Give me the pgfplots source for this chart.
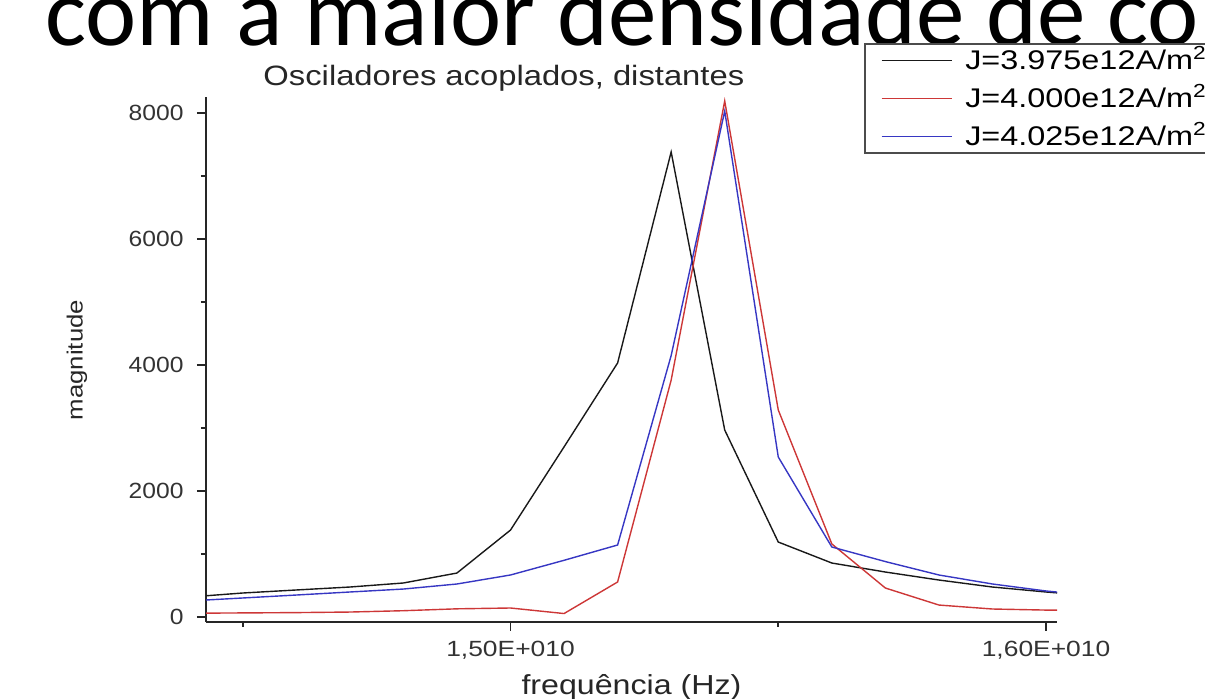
\documentclass[border=0pt]{standalone}
\usepackage{pgfplots}
\pgfplotsset{compat=1.18}
\usepackage{fontspec}
\setmainfont{Liberation Sans}
\newfontfamily\slidefont{Carlito}
\definecolor{cblack}{RGB}{25,25,25}
\definecolor{cred}{RGB}{205,55,55}
\definecolor{cblue}{RGB}{55,55,195}
\newcommand{\W}[1]{\scalebox{1.17}[1]{#1}}
\newcommand{\WL}[1]{\scalebox{1.2}[1]{#1}}
\begin{document}
\begin{tikzpicture}[x=1pt,y=1pt]
\path[use as bounding box] (0,0) rectangle (602.5,349.5);
\clip (0,0) rectangle (602.5,349.5);
\node[anchor=base west, inner sep=0pt, font=\slidefont\fontsize{48.5}{48.5}\selectfont] at (22.5,326.5) {com a maior densidade de co};
\begin{axis}[
  at={(103pt,38.5pt)}, anchor=south west, scale only axis,
  width=425.5pt, height=262.5pt,
  xmin=1.44314e10, xmax=1.60205e10, ymin=-79, ymax=8254,
  axis x line*=bottom, axis y line*=left,
  axis line style={-, line width=1.3pt, black!85},
  scaled x ticks=false, scaled y ticks=false,
  xtick={1.5e10,1.6e10}, xticklabels={{1,50E+010},{1,60E+010}},
  minor xtick={1.45e10,1.55e10},
  ytick={0,2000,4000,6000,8000}, yticklabels={0,2000,4000,6000,8000},
  minor ytick={1000,3000,5000,7000},
  tick align=outside, major tick length=4.5pt, minor tick length=2.5pt,
  every tick/.style={line width=0.9pt, black!85},
  /pgf/number format/assume math mode=true,
  xticklabel style={font=\fontsize{11}{11}\selectfont, xscale=1.2, text=black!80, yshift=-1.5pt},
  yticklabel style={font=\fontsize{11}{11}\selectfont, xscale=1.12, text=black!80, xshift=-2.5pt},
  title={\W{Osciladores acoplados, distantes}},
  title style={at={(axis description cs:0.35,1)}, anchor=base, yshift=-0.5pt, font=\fontsize{14}{14}\selectfont, text=black!85},
  xlabel={\W{frequência (Hz)}},
  xlabel style={at={(axis description cs:0.5,0)}, anchor=base, yshift=-36.5pt, font=\fontsize{13.75}{13.75}\selectfont, text=black!85},
  ylabel={\W{magnitude}},
  ylabel style={at={(axis description cs:-0.1516,0.499)}, anchor=center, font=\fontsize{11}{11}\selectfont, text=black!85},
  legend style={at={(axis description cs:0.7732,1.1029)}, anchor=north west, draw=black!70, line width=0.9pt, fill=white,
    font=\fontsize{13.5}{13.5}\selectfont, inner xsep=8pt, inner ysep=3.5pt, row sep=9.5pt, column sep=6.5pt,
    nodes={inner sep=0pt, text height=9.5pt, text depth=0pt}},
  legend cell align=left,
  legend image code/.code={\draw[#1] (0pt,0pt) -- (35pt,0pt);},
]
\addplot[cblack, line width=0.7pt] coordinates {
(1.44e10,317) (1.45e10,381) (1.46e10,429) (1.47e10,476) (1.48e10,540) (1.49e10,698)
(1.50e10,1380) (1.51e10,2700) (1.52e10,4032) (1.53e10,7381) (1.54e10,2968) (1.55e10,1190)
(1.56e10,857) (1.57e10,714) (1.58e10,587) (1.59e10,476) (1.60e10,397) (1.61e10,330)};
\addlegendentry{\WL{J=3.975e12A/m\textsuperscript{2}}}
\addplot[cred, line width=0.7pt] coordinates {
(1.44e10,60) (1.45e10,65) (1.46e10,70) (1.47e10,79) (1.48e10,100) (1.49e10,130)
(1.50e10,143) (1.51e10,55) (1.52e10,556) (1.53e10,3760) (1.54e10,8190) (1.55e10,3286)
(1.56e10,1160) (1.57e10,460) (1.58e10,190) (1.59e10,127) (1.60e10,110) (1.61e10,110)};
\addlegendentry{\WL{J=4.000e12A/m\textsuperscript{2}}}
\addplot[cblue, line width=0.7pt] coordinates {
(1.44e10,255) (1.45e10,302) (1.46e10,349) (1.47e10,397) (1.48e10,444) (1.49e10,524)
(1.50e10,667) (1.51e10,900) (1.52e10,1143) (1.53e10,4150) (1.54e10,8030) (1.55e10,2540)
(1.56e10,1111) (1.57e10,880) (1.58e10,667) (1.59e10,524) (1.60e10,413) (1.61e10,330)};
\addlegendentry{\WL{J=4.025e12A/m\textsuperscript{2}}}
\end{axis}
\end{tikzpicture}
\end{document}
